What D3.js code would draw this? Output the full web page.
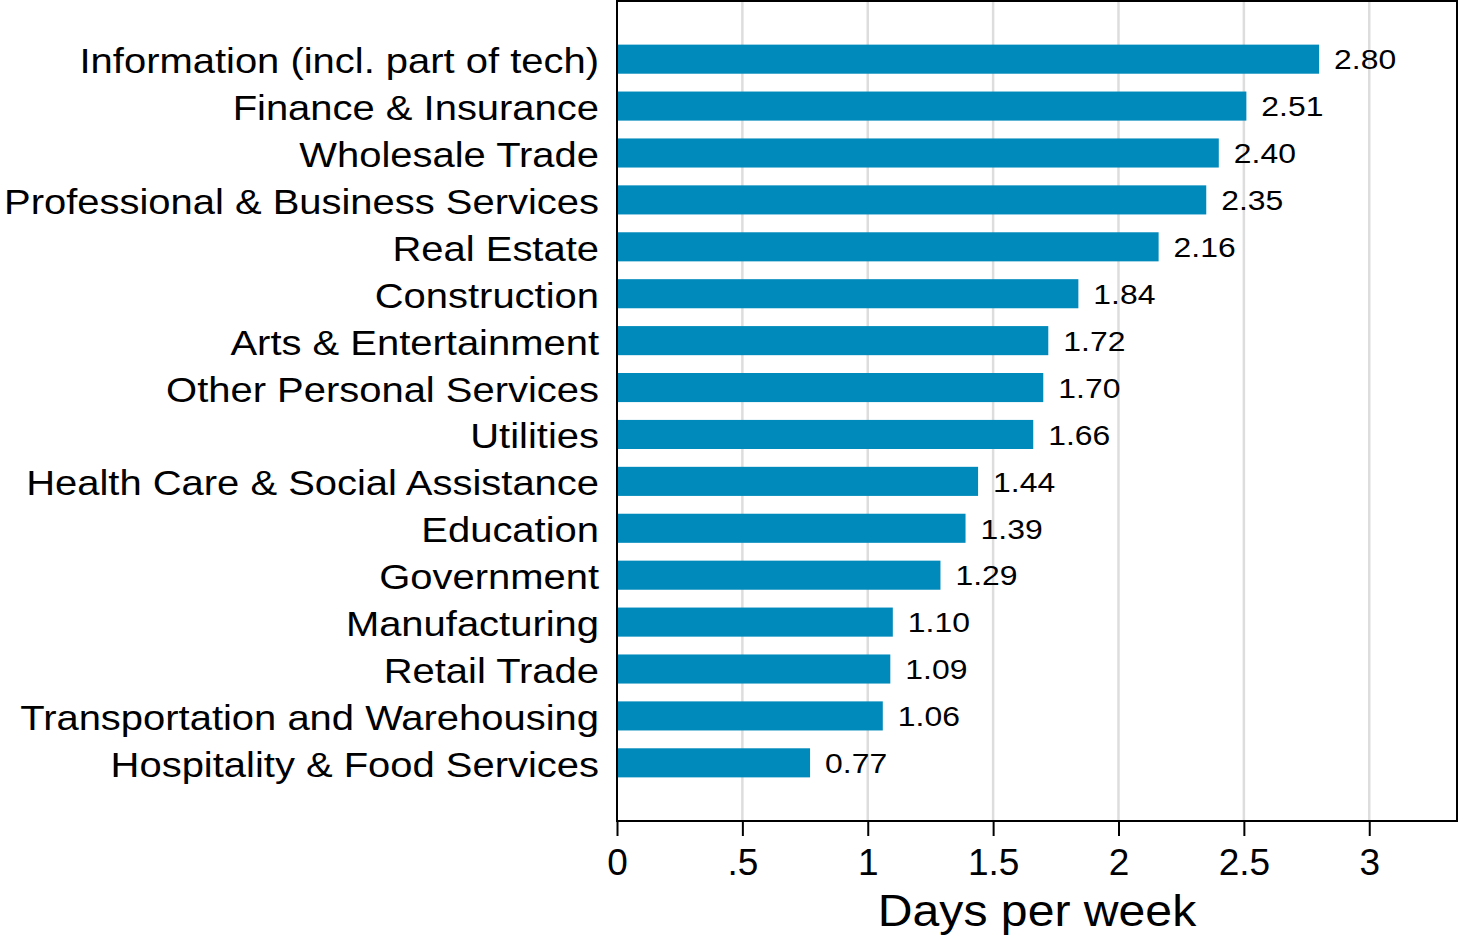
<!DOCTYPE html>
<html>
<head>
<meta charset="utf-8">
<script src="https://cdn.jsdelivr.net/npm/d3@7"></script>
<style>
  body { margin: 0; background: #fff; }
  svg { display: block; font-family: "Liberation Sans", Arial, Helvetica, sans-serif; }
</style>
</head>
<body>
<svg width="1460" height="937"></svg>
<script>
// industries, top to bottom
var industries = [
  "Information (incl. part of tech)",
  "Finance & Insurance",
  "Wholesale Trade",
  "Professional & Business Services",
  "Real Estate",
  "Construction",
  "Arts & Entertainment",
  "Other Personal Services",
  "Utilities",
  "Health Care & Social Assistance",
  "Education",
  "Government",
  "Manufacturing",
  "Retail Trade",
  "Transportation and Warehousing",
  "Hospitality & Food Services"
];
var daysPerWeek = [2.80, 2.51, 2.40, 2.35, 2.16, 1.84, 1.72, 1.70, 1.66, 1.44, 1.39, 1.29, 1.10, 1.09, 1.06, 0.77];
var tickValues = [0, 0.5, 1, 1.5, 2, 2.5, 3];
var tickLabels = ["0", ".5", "1", "1.5", "2", "2.5", "3"];

var svg = d3.select("svg");

var plot = {left: 617, right: 1457, top: 1, bottom: 821};

var xScale = d3.scaleLinear()
  .domain([0, 3.35])
  .range([plot.left, plot.right]);

var yScale = d3.scaleBand()
  .domain(industries)
  .range([plot.top, plot.bottom])
  .paddingInner(0.38)
  .paddingOuter(0.93);

// grid lines
svg.append("g")
  .attr("class", "grid")
  .selectAll("line").data(tickValues.slice(1)).enter()
  .append("line")
  .attr("x1", function(d) { return xScale(d); })
  .attr("x2", function(d) { return xScale(d); })
  .attr("y1", plot.top)
  .attr("y2", plot.bottom)
  .attr("stroke", "#dddddd")
  .attr("stroke-width", 2.5);

// bars
svg.append("g")
  .selectAll("rect").data(daysPerWeek).enter()
  .append("rect")
  .attr("x", xScale(0))
  .attr("y", function(d, i) { return yScale(industries[i]); })
  .attr("width", function(d) { return xScale(d) - xScale(0); })
  .attr("height", yScale.bandwidth())
  .attr("fill", "#008abb");

// value labels (glyphs a bit wider than Liberation Sans, so stretch x)
svg.append("g")
  .selectAll("text").data(daysPerWeek).enter()
  .append("text")
  .attr("transform", function(d, i) {
    var cy = yScale(industries[i]) + yScale.bandwidth() / 2;
    return "translate(" + (xScale(d) + 15) + "," + cy + ") scale(1.12,1)";
  })
  .attr("dy", "0.36em")
  .attr("font-size", 28.5)
  .attr("fill", "#000")
  .text(function(d) { return d.toFixed(2); });

// frame
svg.append("rect")
  .attr("x", plot.left)
  .attr("y", plot.top)
  .attr("width", plot.right - plot.left)
  .attr("height", plot.bottom - plot.top)
  .attr("fill", "none")
  .attr("stroke", "#000")
  .attr("stroke-width", 2);

// x axis
var xAxis = svg.append("g")
  .attr("transform", "translate(0," + plot.bottom + ")")
  .call(d3.axisBottom(xScale)
    .tickValues(tickValues)
    .tickFormat(function(d, i) { return tickLabels[i]; })
    .tickSize(15)
    .tickPadding(13));
xAxis.select(".domain").remove();
xAxis.selectAll(".tick line").attr("stroke", "#000").attr("stroke-width", 2);
xAxis.selectAll(".tick text")
  .attr("font-size", 37)
  .attr("font-family", "Liberation Sans, Arial, sans-serif")
  .attr("fill", "#000");

// category labels
svg.append("g")
  .selectAll("text").data(industries).enter()
  .append("text")
  .attr("transform", function(d) {
    var cy = yScale(d) + yScale.bandwidth() / 2 + 1;
    return "translate(599," + cy + ") scale(1.11,1)";
  })
  .attr("dy", "0.36em")
  .attr("text-anchor", "end")
  .attr("font-size", 36)
  .attr("fill", "#000")
  .text(function(d) { return d; });

// axis title
svg.append("text")
  .attr("transform", "translate(" + ((plot.left + plot.right) / 2) + ",926) scale(1.07,1)")
  .attr("text-anchor", "middle")
  .attr("font-size", 45)
  .attr("fill", "#000")
  .text("Days per week");
</script>
</body>
</html>
